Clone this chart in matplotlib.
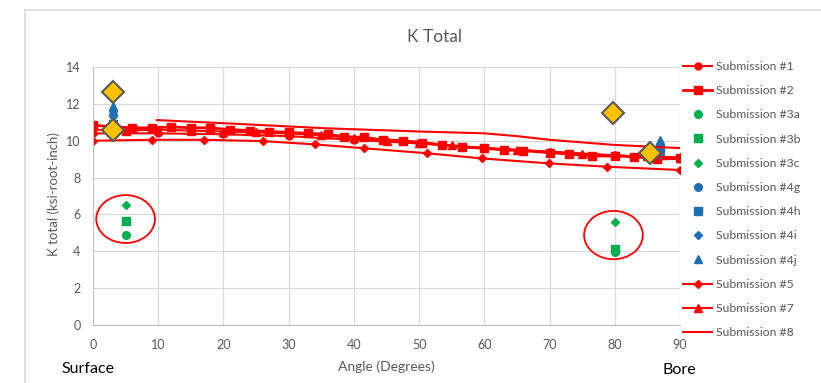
import matplotlib.pyplot as plt
from matplotlib.patches import Ellipse, Rectangle

plt.rcParams['font.family'] = ['Lato', 'DejaVu Sans']

# Submission #1 (circles)
s1_x = [0, 10, 20, 30, 40, 50, 60, 70, 80, 90]
s1_y = [10.4, 10.4, 10.35, 10.25, 10.05, 9.85, 9.6, 9.4, 9.2, 9.0]
# Submission #2 (squares)
s2_x = [0, 3, 6, 9, 12, 15, 18, 21, 24, 27, 30, 33, 36, 38.5, 41.5, 44.5,
        47.5, 50.5, 53.5, 56.5, 60, 63, 66, 70, 73, 76.5, 80, 83, 86.5, 90]
s2_y = [10.85, 10.75, 10.7, 10.7, 10.75, 10.7, 10.7, 10.6, 10.55, 10.5, 10.45, 10.4, 10.35,
        10.22, 10.18, 10.05, 10.0, 9.9, 9.77, 9.66, 9.59, 9.5, 9.46, 9.35, 9.28, 9.17,
        9.17, 9.13, 9.0, 9.04]
# Submission #3a/3b/3c (green)
s3a_x = [5, 80]
s3a_y = [4.88, 3.95]
s3b_x = [5, 80]
s3b_y = [5.64, 4.15]
s3c_x = [5, 80]
s3c_y = [6.51, 5.61]
# Submission #4g/4h/4i/4j (blue)
s4g_x = [3, 87]
s4g_y = [11.4, 9.3]
s4h_x = [3, 87]
s4h_y = [10.9, 9.6]
s4i_x = [3, 87]
s4i_y = [11.6, 9.45]
s4j_x = [3, 87]
s4j_y = [11.9, 10.05]
# Submission #5 (small diamonds, lower line)
s5_x = [0, 9, 17, 26, 34, 41.6, 51.2, 59.6, 69.9, 78.8, 90]
s5_y = [10.0, 10.05, 10.05, 9.98, 9.8, 9.59, 9.32, 9.04, 8.77, 8.59, 8.41]
# Submission #7 (triangles)
s7_x = [0, 5, 10, 15, 20, 25, 30, 35, 40, 45, 50, 55, 60, 65, 70, 75, 80, 85, 90]
s7_y = [10.6, 10.55, 10.6, 10.55, 10.5, 10.45, 10.4, 10.3, 10.15, 10.0, 9.9, 9.75,
        9.6, 9.5, 9.4, 9.3, 9.2, 9.15, 9.1]
# Submission #8 (line only)
s8_x = [9.8, 20, 36, 50, 60, 65, 70, 80, 90]
s8_y = [11.12, 10.95, 10.67, 10.5, 10.4, 10.25, 10.05, 9.77, 9.6]
# extra orange diamonds (not in legend)
extra_x = [3, 3, 79.8, 85.4]
extra_y = [12.66, 10.58, 11.53, 9.32]

red = '#FF0000'
green = '#00B050'
blue = '#1F6FB5'

fig = plt.figure(figsize=(8.21, 3.83), dpi=100)
fig.patches.append(Rectangle((25 / 821, -0.1), 1.2, 1.1 - 10 / 383, transform=fig.transFigure,
                             fill=False, edgecolor='#D9D9D9', linewidth=1.2))
ax = fig.add_axes([93 / 821, 1 - 325 / 383, 587 / 821, 258 / 383])

ax.plot(s1_x, s1_y, color=red, marker='o', ms=5, lw=1.5, label='Submission #1')
ax.plot(s2_x, s2_y, color=red, marker='s', ms=6, lw=2, label='Submission #2')
ax.plot(s3a_x, s3a_y, ls='none', color=green, marker='o', ms=5.5, label='Submission #3a')
ax.plot(s3b_x, s3b_y, ls='none', color=green, marker='s', ms=5.5, label='Submission #3b')
ax.plot(s3c_x, s3c_y, ls='none', color=green, marker='D', ms=4, label='Submission #3c')
ax.plot(s4g_x, s4g_y, ls='none', color=blue, marker='o', ms=5.5, label='Submission #4g')
ax.plot(s4h_x, s4h_y, ls='none', color=blue, marker='s', ms=5.5, label='Submission #4h')
ax.plot(s4i_x, s4i_y, ls='none', color=blue, marker='D', ms=4, label='Submission #4i')
ax.plot(s4j_x, s4j_y, ls='none', color=blue, marker='^', ms=6, label='Submission #4j')
ax.plot(s5_x, s5_y, color=red, marker='D', ms=4, lw=1.5, label='Submission #5')
ax.plot(s7_x, s7_y, color=red, marker='^', ms=5.5, lw=1.5, label='Submission #7')
ax.plot(s8_x, s8_y, color=red, lw=1.5, label='Submission #8')
ax.plot(extra_x, extra_y, ls='none', marker='D', ms=11, mfc='#FFC000', mec='#595959',
        mew=1.5, zorder=5)

ax.add_patch(Ellipse((5, 5.75), 9.0, 2.6, fill=False, edgecolor=red, lw=1.3, zorder=6))
ax.add_patch(Ellipse((79.8, 4.88), 9.0, 2.62, fill=False, edgecolor=red, lw=1.3, zorder=6))

ax.set_xlim(0, 90)
ax.set_ylim(0, 14)
ax.set_xticks(range(0, 91, 10))
ax.set_yticks(range(0, 15, 2))
ax.grid(True, color='#D9D9D9', lw=0.9)
ax.set_axisbelow(True)
for side in ['top', 'right']:
    ax.spines[side].set_visible(False)
for side in ['left', 'bottom']:
    ax.spines[side].set_color('#BFBFBF')
ax.tick_params(axis='both', length=0, labelsize=9, labelcolor='#595959')
ax.tick_params(axis='x', pad=10)
ax.tick_params(axis='y', pad=9)

fig.text(434 / 821, 1 - 37 / 383, 'K Total', ha='center', va='center', fontsize=12.5,
         color='#595959')
fig.text(54 / 821, 1 - 194 / 383, 'K total (ksi-root-inch)', rotation=90, ha='center',
         va='center', fontsize=9.5, color='#595959')
fig.text(386 / 821, 1 - 367 / 383, 'Angle (Degrees)', ha='center', va='center', fontsize=10,
         color='#595959')
fig.text(88 / 821, 1 - 369 / 383, 'Surface', ha='center', va='center', fontsize=11.5,
         color='black')
fig.text(679 / 821, 1 - 370 / 383, 'Bore', ha='center', va='center', fontsize=11.5,
         color='black')

fig.legend(loc='upper left', bbox_to_anchor=(683 / 821, 1 - 61 / 383), frameon=False,
           fontsize=8.8, labelcolor='#595959', handlelength=2.4, handletextpad=0.3,
           labelspacing=1.08, borderpad=0, borderaxespad=0)

fig.savefig('out.png', dpi=100)
